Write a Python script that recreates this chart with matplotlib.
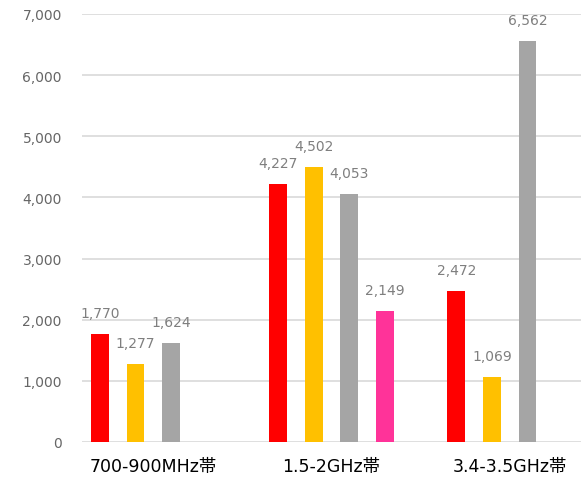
import matplotlib
matplotlib.use("Agg")
import matplotlib.pyplot as plt
import numpy as np

plt.rcParams['font.family'] = ['DejaVu Sans', 'Noto Sans CJK JP']

categories = ["700-900MHz帯", "1.5-2GHz帯", "3.4-3.5GHz帯"]
series_red = [1770, 4227, 2472]
series_yellow = [1277, 4502, 1069]
series_gray = [1624, 4053, 6562]
series_pink = [None, 2149, None]
series_colors = ["#FF0000", "#FFC000", "#A5A5A5", "#FF3399"]
yticks = [0, 1000, 2000, 3000, 4000, 5000, 6000, 7000]

fig = plt.figure(figsize=(5.81, 4.81), dpi=100)
ax = fig.add_axes([82/581, 38/481, 1 - 82/581, (443-15)/481])

x = np.arange(len(categories))
width = 0.1
offsets = [-0.3, -0.1, 0.1, 0.3]
all_series = [series_red, series_yellow, series_gray, series_pink]
for s, off, col in zip(all_series, offsets, series_colors):
    for i, v in enumerate(s):
        if v is None:
            continue
        ax.bar(x[i] + off, v, width=width, color=col, zorder=3)
        ax.annotate(f"{v:,}", (x[i] + off, v), xytext=(0, 10), textcoords="offset points",
                    ha="center", va="bottom", fontsize=10, color="#7F7F7F")

ax.set_xlim(-0.4, 2.4)
ax.set_ylim(0, 7000)
ax.set_yticks(yticks)
ax.set_yticklabels([f"{t:,}" for t in yticks], fontsize=10, color="#666666")
ax.set_xticks(x)
ax.set_xticklabels(categories, fontsize=12.5, color="black")
ax.tick_params(axis='y', length=0, pad=14.5)
ax.tick_params(axis='x', length=0, pad=11)
ax.grid(axis='y', color="#D9D9D9", linewidth=1.2, zorder=0)
for sp in ax.spines.values():
    sp.set_visible(False)

fig.savefig("out.png", dpi=100)
